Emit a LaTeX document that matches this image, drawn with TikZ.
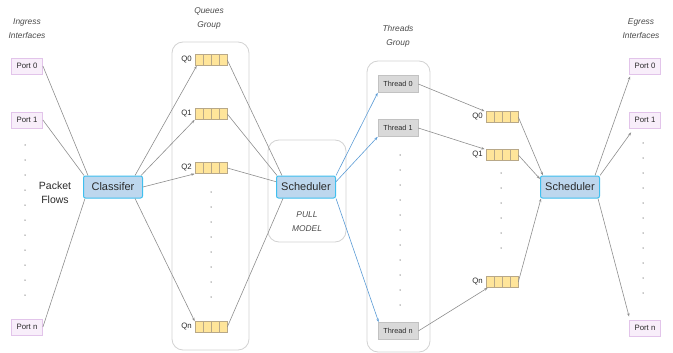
\documentclass[tikz,border=0pt]{standalone}
\usepackage{fontspec}
\setmainfont{Liberation Sans}
\usetikzlibrary{arrows.meta}
\definecolor{portfill}{HTML}{F8EEFA}
\definecolor{portdraw}{HTML}{E2C4EA}
\definecolor{schfill}{HTML}{BDD7EE}
\definecolor{schdraw}{HTML}{3FBFEF}
\definecolor{qfill}{HTML}{FFE59A}
\definecolor{qdraw}{HTML}{B8A888}
\definecolor{thfill}{HTML}{D9D9D9}
\definecolor{thdraw}{HTML}{C2C2C2}
\definecolor{grpdraw}{HTML}{D2D2D2}
\definecolor{linegray}{HTML}{8E8E8E}
\definecolor{lineblue}{HTML}{5B9BD5}
\definecolor{txt}{HTML}{2A2A2A}
\begin{document}
\begin{tikzpicture}[x=1pt,y=-1pt,
  every node/.style={text=txt},
  port/.style={draw=portdraw, fill=portfill, line width=0.8pt, minimum width=31pt, minimum height=16pt, inner sep=0pt, font=\fontsize{7.8}{9}\selectfont},
  schbox/.style={draw=schdraw, fill=schfill, line width=1pt, rounded corners=2pt, minimum width=59pt, minimum height=22pt, inner sep=0pt, font=\fontsize{11}{13}\selectfont},
  queue/.style={draw=qdraw, fill=qfill, line width=0.6pt, minimum width=32pt, minimum height=11pt, inner sep=0pt,
    path picture={\foreach \f in {8,16,24}{\draw[qdraw, line width=0.6pt] ([xshift=\f pt]path picture bounding box.north west) -- ([xshift=\f pt]path picture bounding box.south west);}}},
  qlabel/.style={font=\fontsize{7.8}{9}\selectfont, inner sep=0pt},
  thbox/.style={draw=thdraw, fill=thfill, line width=0.6pt, minimum width=40pt, minimum height=17pt, inner sep=0pt, font=\fontsize{7.3}{8}\selectfont},
  grp/.style={draw=grpdraw, line width=0.8pt, rounded corners=11pt},
  title/.style={font=\itshape\fontsize{8.4}{14}\selectfont, align=center, text=txt!85},
  conn/.style={draw=linegray, line width=0.6pt},
  carr/.style={conn, -{Stealth[length=3.5pt,width=2.5pt]}},
  barr/.style={draw=lineblue, line width=0.6pt, -{Stealth[length=3.5pt,width=2.5pt]}},
  dotc/.style={fill=linegray, circle, inner sep=0pt, minimum size=1.5pt}
]
\useasboundingbox (0,0) rectangle (673,353);

% group boxes
\draw[grp] (172,42) rectangle (249,350);
\draw[grp] (268,140) rectangle (346,242);
\draw[grp] (367,61) rectangle (430,352);

% titles
\node[title] (tin) at (27,29) {Ingress\\Interfaces};
\node[title] (tq) at (209,18) {Queues\\Group};
\node[title] (tth) at (398,36) {Threads\\Group};
\node[title] (teg) at (641,29) {Egress\\Interfaces};
\node[title] (tpull) at (307,222) {PULL\\MODEL};
\node[font=\fontsize{10.5}{14}\selectfont, align=center] (pf) at (55,193) {Packet\\Flows};

% ingress ports
\node[port] (ip0) at (27,66) {Port 0};
\node[port] (ip1) at (27,120) {Port 1};
\node[port] (ipn) at (27,327) {Port n};
\foreach \y in {145,160,...,295} \node[dotc] at (25,\y) {};

% classifier
\node[schbox] (cls) at (113,187) {Classifer};

% queues group
\node[queue] (q0) at (211,60) {};
\node[queue] (q1) at (211,114) {};
\node[queue] (q2) at (211,168) {};
\node[queue] (qn) at (211,327) {};
\node[qlabel, anchor=east] (lq0) at (192,60) {Q0};
\node[qlabel, anchor=east] (lq1) at (192,114) {Q1};
\node[qlabel, anchor=east] (lq2) at (192,168) {Q2};
\node[qlabel, anchor=east] (lqn) at (192,327) {Qn};
\foreach \y in {192,207,...,297} \node[dotc] at (211,\y) {};

% scheduler 1
\node[schbox] (sch1) at (306,187) {Scheduler};

% threads
\node[thbox] (t0) at (398,84) {Thread 0};
\node[thbox] (t1) at (398,128) {Thread 1};
\node[thbox] (tn) at (398,331) {Thread n};
\foreach \y in {155,170,...,305} \node[dotc] at (400,\y) {};

% right queues
\node[queue] (rq0) at (502,117) {};
\node[queue] (rq1) at (502,155) {};
\node[queue] (rqn) at (502,282) {};
\node[qlabel, anchor=east] (lrq0) at (483,117) {Q0};
\node[qlabel, anchor=east] (lrq1) at (483,155) {Q1};
\node[qlabel, anchor=east] (lrqn) at (483,282) {Qn};
\foreach \y in {173,188,...,249} \node[dotc] at (501,\y) {};

% scheduler 2
\node[schbox] (sch2) at (570,187) {Scheduler};

% egress ports
\node[port] (ep0) at (645,66) {Port 0};
\node[port] (ep1) at (645,120) {Port 1};
\node[port] (epn) at (645,328) {Port n};
\foreach \y in {143,158,...,293} \node[dotc] at (643,\y) {};

% ingress -> classifier
\draw[conn] (ip0.east) -- ([xshift=5pt]cls.north west);
\draw[conn] (ip1.east) -- ([xshift=1pt]cls.north west);
\draw[conn] (ipn.east) -- ([xshift=2pt]cls.south west);

% classifier -> queues
\draw[carr] ([xshift=-8pt]cls.north east) -- ([xshift=2pt]q0.south west);
\draw[carr] ([xshift=-2pt]cls.north east) -- (q1.south west);
\draw[carr] (cls.east) -- (q2.south west);
\draw[carr] ([xshift=-8pt]cls.south east) -- (qn.north west);

% queues -> scheduler 1
\draw[conn] (q0.east) -- ([xshift=6pt]sch1.north west);
\draw[conn] (q1.east) -- ([xshift=1pt]sch1.north west);
\draw[conn] (q2.east) -- (sch1.170);
\draw[conn] (qn.east) -- ([xshift=7pt]sch1.south west);

% scheduler 1 -> threads
\draw[barr] (sch1.north east) -- (t0.south west);
\draw[barr] (sch1.10) -- (t1.south west);
\draw[barr] (sch1.south east) -- ([xshift=1pt]tn.north west);

% threads -> right queues
\draw[carr] (t0.east) -- ([xshift=-1pt]rq0.north west);
\draw[carr] (t1.east) -- ([xshift=-1pt]rq1.north west);
\draw[carr] (tn.east) -- ([xshift=2pt]rqn.south west);

% right queues -> scheduler 2
\draw[carr] (rq0.east) -- ([xshift=3pt]sch2.north west);
\draw[carr] (rq1.east) -- (sch2.165);
\draw[carr] (rqn.east) -- ([xshift=1pt]sch2.south west);

% scheduler 2 -> egress
\draw[carr] ([xshift=-5pt]sch2.north east) -- ([xshift=1pt,yshift=-2pt]ep0.south west);
\draw[carr] (sch2.north east) -- ([xshift=2pt,yshift=-4pt]ep1.south west);
\draw[carr] ([xshift=-2pt]sch2.south east) -- ([yshift=3pt]epn.north west);
\end{tikzpicture}
\end{document}
